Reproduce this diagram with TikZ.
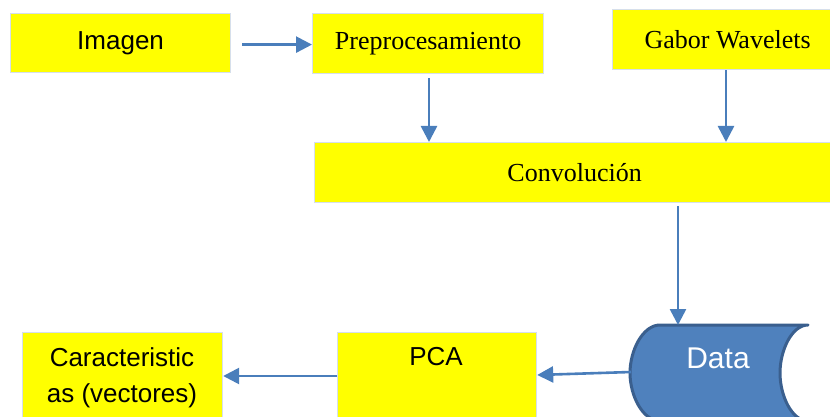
\documentclass[tikz,border=0pt]{standalone}
\usepackage{fontspec}
\setmainfont{Liberation Serif}
\newfontfamily\sansfont{Liberation Sans}
\usetikzlibrary{arrows.meta}
\definecolor{boxyellow}{HTML}{FFFF00}
\definecolor{boxedge}{HTML}{D6DFEB}
\definecolor{flowblue}{HTML}{4A7EBB}
\definecolor{datafill}{HTML}{4F81BD}
\definecolor{dataedge}{HTML}{3A5F8E}

\begin{document}
\begin{tikzpicture}[x=1pt,y=-1pt,
  stage/.style={draw=boxedge, line width=1.2pt, fill=boxyellow, inner sep=0pt, anchor=north west},
  flow/.style={draw=flowblue, line width=2.6pt, -{Triangle[length=16pt,width=16pt]}},
  serifbig/.style={font=\fontsize{26}{30}\selectfont},
  sansbig/.style={font=\sansfont\fontsize{26}{36}\selectfont}]

\useasboundingbox (0,0) rectangle (830,417);
\clip (0,0) rectangle (830,417);

% process boxes
\node[stage, sansbig,  minimum width=220pt, minimum height=59pt] (imagen) at (10,13)  {Imagen};
\node[stage, serifbig, minimum width=231pt, minimum height=60pt] (prep)   at (312,13) {Preprocesamiento};
\node[stage, serifbig, minimum width=230pt, minimum height=60pt] (gabor)  at (612,9)  {Gabor Wavelets};
\node[stage, serifbig, minimum width=520pt, minimum height=60pt] (conv)   at (314,142) {Convoluci\'on};
\node[stage, minimum width=200pt, minimum height=100pt] (caract) at (22,332) {};
\node[stage, minimum width=199pt, minimum height=100pt] (pca)    at (337,332) {};
\node[sansbig, align=center, inner sep=0pt] (caracttxt) at (122,378) {Caracteristic\\as (vectores)};
\node[sansbig, inner sep=0pt] (pcatxt) at (436,357) {PCA};

% stored data symbol
\path[draw=dataedge, line width=3pt, fill=datafill, line join=round]
  (660,325) -- (808,325)
  .. controls (792,325) and (780,350) .. (780,373)
  .. controls (780,396) and (792,421) .. (808,421)
  -- (660,421)
  .. controls (643,421) and (630,396) .. (630,373)
  .. controls (630,350) and (643,325) .. (660,325) -- cycle;
\node[font=\sansfont\fontsize{30}{36}\selectfont, text=white, inner sep=0pt] (data) at (718,358) {Data};
\coordinate (datatop) at (678,325);
\coordinate (dataleft) at (631,372);

% connector columns
\coordinate (pcol) at (429,0);
\coordinate (gcol) at (726,0);
\coordinate (ccol) at (678,0);

% connectors
\draw[flow, shorten <=11pt] (imagen.east) ++(0,1.5) coordinate (imgout) (imgout) -- (imgout -| prep.west);
\draw[flow, shorten <=4pt] (prep.south -| pcol) -- (conv.north -| pcol);
\draw[flow] (gabor.south -| gcol) -- (conv.north -| gcol);
\draw[flow, shorten <=3pt] (conv.south -| ccol) -- (datatop);
\draw[flow] (dataleft) -- (pca.east |- 0,375);
\draw[flow] (pca.west |- 0,376) -- (caract.east |- 0,376);
\end{tikzpicture}
\end{document}
